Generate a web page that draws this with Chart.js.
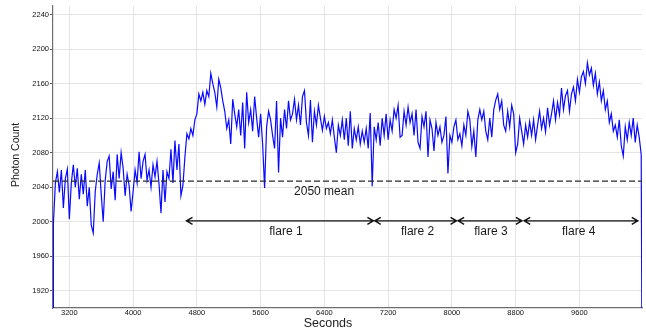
<!DOCTYPE html>
<html>
<head>
<meta charset="utf-8">
<script src="https://cdn.jsdelivr.net/npm/chart.js@4.4.1/dist/chart.umd.min.js"></script>
<style>
    body { margin: 0; background: #ffffff; }
    #wrap { width: 646px; height: 331px; }
</style>
</head>
<body>
<div id="wrap"><canvas id="lightcurve" width="646" height="331"></canvas></div>
<script>
// Photon counts, one sample every 25 s, split in 1000 s blocks
const sampleStep = 25;
const blockStarts = [3000, 4000, 5000, 6000, 7000, 8000, 9000, 10000];

const counts3000 = [1998, 2045, 2058, 2034, 2060, 2016, 2050, 2061, 2003, 2045,
    2066, 2040, 2062, 2026, 2055, 2032, 2060, 2018, 2040, 1996,
    1987, 2035, 2055, 2068, 2032, 2000, 2048, 2070, 2076, 2038,
    2058, 2025, 2078, 2050, 2080, 2062, 2030, 2055, 2042, 2012];
const counts4000 = [2035, 2060, 2045, 2081, 2050, 2070, 2078, 2048, 2060, 2040,
    2066, 2052, 2070, 2044, 2010, 2060, 2023, 2058, 2050, 2084,
    2045, 2094, 2060, 2090, 2030, 2042, 2075, 2102, 2096, 2108,
    2100, 2118, 2125, 2148, 2140, 2150, 2136, 2152, 2145, 2172];
const counts5000 = [2160, 2150, 2133, 2165, 2155, 2140, 2128, 2108, 2118, 2090,
    2142, 2125, 2110, 2130, 2100, 2138, 2085, 2150, 2115, 2130,
    2105, 2145, 2120, 2098, 2125, 2090, 2039, 2110, 2128, 2118,
    2100, 2085, 2140, 2057, 2120, 2098, 2130, 2108, 2140, 2118];
const counts6000 = [2125, 2142, 2118, 2135, 2112, 2145, 2152, 2115, 2100, 2141,
    2092, 2128, 2112, 2135, 2120, 2106, 2122, 2108, 2115, 2102,
    2118, 2098, 2080, 2112, 2100, 2118, 2095, 2120, 2088, 2128,
    2085, 2108, 2095, 2110, 2090, 2105, 2092, 2108, 2085, 2126];
const counts7000 = [2041, 2110, 2095, 2115, 2088, 2120, 2100, 2125, 2095, 2118,
    2105, 2130, 2120, 2135, 2098, 2100, 2128, 2112, 2133, 2115,
    2125, 2100, 2130, 2092, 2085, 2122, 2110, 2128, 2075, 2118,
    2108, 2082, 2115, 2100, 2110, 2092, 2100, 2122, 2056, 2100];
const counts8000 = [2092, 2110, 2118, 2095, 2102, 2088, 2112, 2100, 2128, 2118,
    2087, 2105, 2075, 2118, 2130, 2118, 2128, 2105, 2095, 2120,
    2098, 2130, 2141, 2148, 2130, 2140, 2112, 2105, 2128, 2110,
    2135, 2125, 2080, 2090, 2120, 2105, 2090, 2112, 2098, 2116];
const counts9000 = [2100, 2118, 2095, 2112, 2128, 2108, 2120, 2104, 2132, 2112,
    2125, 2140, 2118, 2138, 2124, 2155, 2130, 2146, 2152, 2128,
    2148, 2156, 2140, 2165, 2150, 2168, 2174, 2160, 2184, 2170,
    2178, 2158, 2172, 2148, 2162, 2140, 2152, 2130, 2140, 2115];
const counts10000 = [2125, 2105, 2112, 2098, 2118, 2088, 2076, 2110, 2095, 2115,
    2100, 2120, 2092, 2112, 2098, 2078];

// the trace drops off the bottom at both ends of the record
const edgeTimes = [2995, 10385];
const edgeCount = 1850;

const meanLevel = 2047;
const meanText = "2050 mean";
const meanTextAt = [6396, 2035];

const flareNames = ["flare 1", "flare 2", "flare 3", "flare 4"];
const flareStart = [4670, 7032, 8078, 8907];
const flareEnd = [7015, 8058, 8878, 10332];
const flareLabelAt = [5917, 7569, 8489, 9591];
const arrowLevel = 2001;
const flareLabelLevel = 1988;

const xTicks = [3200, 4000, 4800, 5600, 6400, 7200, 8000, 8800, 9600];
const yTicks = [1920, 1960, 2000, 2040, 2080, 2120, 2160, 2200, 2240];

let blocks = [counts3000, counts4000, counts5000, counts6000, counts7000, counts8000, counts9000, counts10000];
let points = [{ x: edgeTimes[0], y: edgeCount }];
blocks.forEach((block, k) => {
    block.forEach((v, i) => points.push({ x: blockStarts[k] + i * sampleStep, y: v }));
});
points.push({ x: edgeTimes[1], y: edgeCount });

const font = "'Liberation Sans', Arial, sans-serif";

// arrows, labels and axis titles
const annotate = {
    id: "annotate",
    afterDatasetsDraw(chart) {
        let ctx = chart.ctx;
        let xs = chart.scales.x, ys = chart.scales.y;
        ctx.save();
        ctx.strokeStyle = "#111";
        ctx.fillStyle = "#1a1a1a";
        ctx.lineWidth = 1.4;
        let ay = ys.getPixelForValue(arrowLevel);
        for (let i = 0; i < flareNames.length; i++) {
            let x1 = xs.getPixelForValue(flareStart[i]);
            let x2 = xs.getPixelForValue(flareEnd[i]);
            ctx.beginPath();
            ctx.moveTo(x1, ay); ctx.lineTo(x2, ay);
            ctx.moveTo(x1 + 6, ay - 3.5); ctx.lineTo(x1, ay); ctx.lineTo(x1 + 6, ay + 3.5);
            ctx.moveTo(x2 - 6, ay - 3.5); ctx.lineTo(x2, ay); ctx.lineTo(x2 - 6, ay + 3.5);
            ctx.stroke();
            ctx.font = "12px " + font;
            ctx.textAlign = "center";
            ctx.textBaseline = "middle";
            ctx.fillText(flareNames[i], xs.getPixelForValue(flareLabelAt[i]), ys.getPixelForValue(flareLabelLevel));
        }
        ctx.fillText(meanText, xs.getPixelForValue(meanTextAt[0]), ys.getPixelForValue(meanTextAt[1]));

        // axis titles
        ctx.fillStyle = "#222";
        ctx.font = "12.5px " + font;
        ctx.fillText("Seconds", 328, 324);
        ctx.translate(16, 155);
        ctx.rotate(-Math.PI / 2);
        ctx.font = "10.5px " + font;
        ctx.fillText("Photon Count", 0, 0);
        ctx.restore();
    }
};

let chart = new Chart(document.getElementById("lightcurve"), {
    type: "line",
    data: {
        datasets: [{
            label: "mean",
            data: [{ x: edgeTimes[0], y: meanLevel }, { x: edgeTimes[1], y: meanLevel }],
            borderColor: "#2a2a2a",
            borderWidth: 1.4,
            borderDash: [6, 3],
            pointRadius: 0,
            order: 0
        }, {
            label: "Photon Count",
            data: points,
            borderColor: "#0a0aff",
            borderWidth: 1.2,
            pointRadius: 0,
            tension: 0,
            order: 1
        }]
    },
    options: {
        responsive: false,
        animation: false,
        layout: { padding: { top: 6, right: 4, left: 0, bottom: 0 } },
        plugins: {
            legend: { display: false },
            tooltip: { enabled: false }
        },
        scales: {
            x: {
                type: "linear",
                min: edgeTimes[0],
                max: edgeTimes[1],
                afterBuildTicks: (scale) => { scale.ticks = xTicks.map(v => ({ value: v })); },
                afterFit: (scale) => { scale.height = 23; },
                grid: { color: "#e4e4e4", drawTicks: false },
                border: { color: "#6e6e6e", width: 1.2 },
                ticks: {
                    color: "#111", padding: 0, maxRotation: 0,
                    font: { family: font, size: 7.5 },
                    callback: (v) => String(v)
                }
            },
            y: {
                min: 1900,
                max: 2250,
                afterBuildTicks: (scale) => { scale.ticks = yTicks.map(v => ({ value: v })); },
                afterFit: (scale) => { scale.width = 53; },
                grid: { color: "#e4e4e4", tickLength: 3, tickColor: "#555" },
                border: { color: "#6e6e6e", width: 1.2 },
                ticks: {
                    color: "#111", padding: 1,
                    font: { family: font, size: 7.5 },
                    callback: (v) => String(v)
                }
            }
        }
    },
    plugins: [annotate]
});
</script>
</body>
</html>
